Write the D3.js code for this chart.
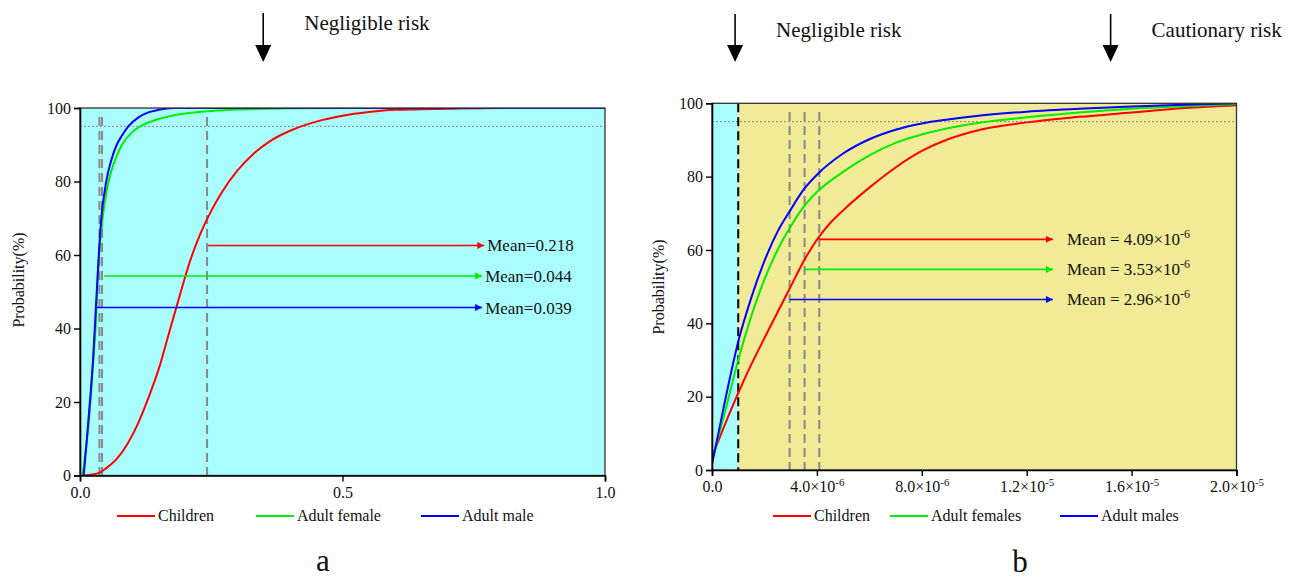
<!DOCTYPE html>
<html><head><meta charset="utf-8">
<script src="https://cdn.jsdelivr.net/npm/d3@7"></script>
<style>
body{margin:0;background:#fff}
svg text{font-family:"Liberation Serif","DejaVu Serif",serif;fill:#111}
</style></head>
<body><svg id="c" width="1292" height="580" font-family="Liberation Serif"></svg>
<script>
// ---------- data ----------
const leftSeriesNames = ["Children", "Adult female", "Adult male"];
const rightSeriesNames = ["Children", "Adult females", "Adult males"];
const seriesColors = ["#ff0000", "#00ee00", "#0000ff"];

// Panel a (x = risk value, y = cumulative probability %)
const leftChildren = [[0.0,0],[0.02,0.2],[0.04,1],[0.05,2],[0.07,4.5],[0.09,8.5],[0.11,14],[0.13,21],[0.15,29],[0.17,39],[0.19,49],[0.21,58.5],[0.23,66],[0.25,72],[0.27,77],[0.30,83],[0.33,87.5],[0.36,90.8],[0.40,93.8],[0.45,96.3],[0.50,97.9],[0.55,98.9],[0.60,99.5],[0.70,99.8],[0.80,100],[1.0,100]];
const leftFemale = [[0.003,0],[0.007,2],[0.01,6],[0.015,12],[0.02,20],[0.025,30],[0.03,41],[0.035,57],[0.04,66],[0.05,77],[0.06,83],[0.07,87],[0.08,90],[0.10,93.5],[0.115,95],[0.15,97],[0.2,98.5],[0.25,99.2],[0.3,99.6],[0.4,99.9],[0.5,100],[1.0,100]];
const leftMale = [[0.007,0],[0.012,8],[0.02,22],[0.025,32],[0.03,45],[0.035,58],[0.04,69],[0.05,80],[0.06,86],[0.07,90],[0.08,92.5],[0.092,95],[0.11,97.3],[0.13,98.8],[0.15,99.5],[0.177,100],[1.0,100]];
const leftMeanLabels = ["Mean=0.218", "Mean=0.044", "Mean=0.039"];
const leftMeanLineX = [0.242, 0.042, 0.037];
const leftArrowStartX = [0.244, 0.046, 0.031];
const leftArrowEndX = [0.770, 0.766, 0.766];
const leftArrowY = [62.6, 54.3, 45.7];
const leftXTicks = [0, 0.5, 1.0];
const leftXTickLabels = ["0.0", "0.5", "1.0"];
const yTicks = [0, 20, 40, 60, 80, 100];

// Panel b
const rightChildren = [[0,3.5],[0.5e-6,12.5],[1e-6,21],[1.5e-6,28.8],[2e-6,36],[2.5e-6,43],[3e-6,50],[3.5e-6,57],[4e-6,62.8],[4.5e-6,67.3],[5e-6,70.8],[6e-6,77],[7e-6,82.5],[8e-6,87],[9e-6,90.2],[1e-5,92.4],[1.2e-5,94.8],[1.4e-5,96.3],[1.6e-5,97.5],[1.8e-5,98.7],[2e-5,99.5]];
const rightFemale = [[0,2.5],[0.5e-6,16],[1e-6,30],[1.5e-6,42],[2e-6,52],[2.5e-6,60],[3e-6,66.4],[3.5e-6,71.8],[4e-6,75.8],[5e-6,81.3],[6e-6,85.8],[7e-6,89.2],[8e-6,91.5],[9e-6,93.2],[1e-5,94.5],[1.2e-5,96.2],[1.4e-5,97.5],[1.6e-5,98.5],[1.8e-5,99.2],[2e-5,99.8]];
const rightMale = [[0,1.5],[0.5e-6,19],[1e-6,35],[1.5e-6,47],[2e-6,57],[2.5e-6,65],[3e-6,71],[3.5e-6,76.5],[4e-6,80.5],[5e-6,86.3],[6e-6,90.2],[7e-6,92.8],[8e-6,94.5],[9e-6,95.6],[1e-5,96.5],[1.2e-5,97.7],[1.4e-5,98.5],[1.6e-5,99.1],[1.8e-5,99.6],[2e-5,100]];
const rightMeanMant = ["4.09", "3.53", "2.96"];
const rightMeanExp = ["-6", "-6", "-6"];
const rightMeanX = [4.09e-6, 3.53e-6, 2.96e-6];
const rightArrowEndX = [1.30e-5, 1.30e-5, 1.30e-5];
const rightArrowY = [62.9, 54.7, 46.5];
const rightXTicks = [0, 4e-6, 8e-6, 1.2e-5, 1.6e-5, 2e-5];
const rightXTickMant = ["0.0", "4.0", "8.0", "1.2", "1.6", "2.0"];
const rightXTickExp = ["", "-6", "-6", "-5", "-5", "-5"];
const negligibleThreshold = 1e-6;
const riskMarksLeft = [{x:0.349, label:"Negligible risk"}];
const riskMarksRight = [{x:0.88e-6, label:"Negligible risk"}, {x:1.52e-5, label:"Cautionary risk"}];

// ---------- drawing ----------
const FONT = "Liberation Serif, DejaVu Serif, serif";
const svg = d3.select("#c");
svg.append("rect").attr("width",1292).attr("height",580).attr("fill","#fff");
const defs = svg.append("defs");
seriesColors.forEach((c,i)=>{
  defs.append("marker").attr("id","ah"+i).attr("viewBox","0 0 10 10").attr("refX",10).attr("refY",5)
    .attr("markerWidth",11).attr("markerHeight",7).attr("markerUnits","userSpaceOnUse").attr("orient","auto")
    .append("path").attr("d","M0,0L10,5L0,10Z").attr("fill",c);
});

function panel(cfg){
  const {x,y,id} = cfg;
  const [x0,x1] = x.range(), [y0,y1] = y.range();
  const g = svg.append("g").attr("font-family",FONT);
  defs.append("clipPath").attr("id","clip"+id).append("rect").attr("x",x0).attr("y",y1).attr("width",x1-x0).attr("height",y0-y1);
  cfg.bg.forEach(b=>{
    g.append("rect").attr("x",x(b[0])).attr("y",y1).attr("width",x(b[1])-x(b[0])).attr("height",y0-y1).attr("fill",b[2]);
  });
  g.append("line").attr("x1",x0).attr("x2",x1).attr("y1",y(95)).attr("y2",y(95))
    .attr("stroke","#888").attr("stroke-width",1).attr("stroke-dasharray","2,2");
  cfg.meanX.forEach(m=>{
    g.append("line").attr("x1",x(m)).attr("x2",x(m)).attr("y1",cfg.dashTop).attr("y2",y0)
      .attr("stroke","#888").attr("stroke-width",2).attr("stroke-dasharray","9,5");
  });
  if(cfg.blackDash!==undefined){
    g.append("line").attr("x1",x(cfg.blackDash)).attr("x2",x(cfg.blackDash)).attr("y1",y1).attr("y2",y0)
      .attr("stroke","#000").attr("stroke-width",2).attr("stroke-dasharray","9,5");
  }
  const line = d3.line().x(d=>x(d[0])).y(d=>y(d[1])).curve(d3.curveMonotoneX);
  cfg.series.forEach((s,i)=>{
    g.append("path").attr("d",line(s)).attr("fill","none").attr("stroke",seriesColors[i])
      .attr("stroke-width",2).attr("clip-path","url(#clip"+id+")");
  });
  cfg.arrowY.forEach((ay,i)=>{
    g.append("line").attr("x1",x(cfg.arrowStart[i])).attr("x2",x(cfg.arrowEnd[i]))
      .attr("y1",y(ay)).attr("y2",y(ay)).attr("stroke",seriesColors[i]).attr("stroke-width",1.6)
      .attr("marker-end","url(#ah"+i+")");
    const t = g.append("text").attr("x",x(cfg.arrowEnd[i])+cfg.labelGap).attr("y",y(ay)+6).attr("font-size",cfg.meanFont);
    if(cfg.meanLabels){ t.text(cfg.meanLabels[i]); }
    else {
      t.append("tspan").text("Mean = "+rightMeanMant[i]+"\u00d710");
      t.append("tspan").attr("dy",-7).attr("font-size",12).text(rightMeanExp[i]);
    }
  });
  g.append("rect").attr("x",x0).attr("y",y1).attr("width",x1-x0).attr("height",y0-y1)
    .attr("fill","none").attr("stroke","#333").attr("stroke-width",1.3);
  const ya = g.append("g").attr("transform",`translate(${x0},0)`)
    .call(d3.axisLeft(y).tickValues(yTicks).tickSize(6).tickPadding(3).tickFormat(d3.format("d")));
  ya.attr("font-family",FONT);
  ya.select(".domain").attr("stroke","#000").attr("stroke-width",1.6);
  ya.selectAll(".tick line").attr("stroke","#000").attr("stroke-width",1.4);
  ya.selectAll("text").attr("font-size",16).attr("fill","#111");
  const xa = g.append("g").attr("transform",`translate(0,${y0})`)
    .call(d3.axisBottom(x).tickValues(cfg.xTicks).tickSize(6).tickPadding(5).tickFormat(()=>""));
  xa.attr("font-family",FONT);
  xa.select(".domain").attr("stroke","#000").attr("stroke-width",1.6);
  xa.selectAll(".tick line").attr("stroke","#000").attr("stroke-width",1.4);
  xa.selectAll(".tick text").each(function(d,i){
    const t = d3.select(this).attr("font-size",16).attr("fill","#111");
    t.append("tspan").text(cfg.xMant[i]);
    if(cfg.xExp && cfg.xExp[i]){
      t.append("tspan").text("\u00d710");
      t.append("tspan").attr("dy",-6).attr("font-size",11).text(cfg.xExp[i]);
    }
  });
  g.append("text").attr("transform",`translate(${cfg.ylabX},${cfg.ylabY}) rotate(-90)`)
    .attr("text-anchor","middle").attr("font-size",16).text("Probability(%)");
  cfg.legend.forEach((L,i)=>{
    g.append("line").attr("x1",L[0]).attr("x2",L[0]+38).attr("y1",cfg.legY).attr("y2",cfg.legY)
      .attr("stroke",seriesColors[i]).attr("stroke-width",2);
    g.append("text").attr("x",L[0]+41).attr("y",cfg.legY+5).attr("font-size",16).text(cfg.names[i]);
  });
  cfg.risk.forEach(r=>{
    const ax = x(r.x);
    g.append("line").attr("x1",ax).attr("x2",ax).attr("y1",cfg.riskTop).attr("y2",cfg.riskBot-16)
      .attr("stroke","#000").attr("stroke-width",1.6);
    g.append("path").attr("d",`M${ax-8},${cfg.riskBot-17}L${ax+8},${cfg.riskBot-17}L${ax},${cfg.riskBot}Z`).attr("fill","#000");
    g.append("text").attr("x",ax+41).attr("y",cfg.riskText).attr("font-size",21).text(r.label);
  });
  g.append("text").attr("x",cfg.tagX).attr("y",cfg.tagY).attr("text-anchor","middle").attr("font-size",31).text(cfg.tag);
}

panel({
  id:"L", x:d3.scaleLinear([0,1],[80,605]), y:d3.scaleLinear([0,100],[475.5,108]),
  bg:[[0,1,"#aafdfd"]], meanX:leftMeanLineX, dashTop:117,
  series:[leftChildren,leftFemale,leftMale],
  arrowY:leftArrowY, arrowStart:leftArrowStartX, arrowEnd:leftArrowEndX, labelGap:3, meanFont:17,
  meanLabels:leftMeanLabels,
  xTicks:leftXTicks, xMant:leftXTickLabels,
  ylabX:24, ylabY:280, names:leftSeriesNames, legY:516, legend:[[117],[256],[421]],
  risk:riskMarksLeft, riskTop:13, riskBot:62, riskText:30, tag:"a", tagX:323, tagY:571
});
panel({
  id:"R", x:d3.scaleLinear([0,2e-5],[712,1236.5]), y:d3.scaleLinear([0,100],[470,103.3]),
  bg:[[0,negligibleThreshold,"#aafdfd"],[negligibleThreshold,2e-5,"#f1ea96"]], meanX:rightMeanX, dashTop:112,
  blackDash:negligibleThreshold,
  series:[rightChildren,rightFemale,rightMale],
  arrowY:rightArrowY, arrowStart:rightMeanX, arrowEnd:rightArrowEndX, labelGap:14, meanFont:17,
  xTicks:rightXTicks, xMant:rightXTickMant, xExp:rightXTickExp,
  ylabX:664, ylabY:287, names:rightSeriesNames, legY:516, legend:[[773],[890],[1060]],
  risk:riskMarksRight, riskTop:14, riskBot:62, riskText:37, tag:"b", tagX:1020, tagY:572
});
</script></body></html>
